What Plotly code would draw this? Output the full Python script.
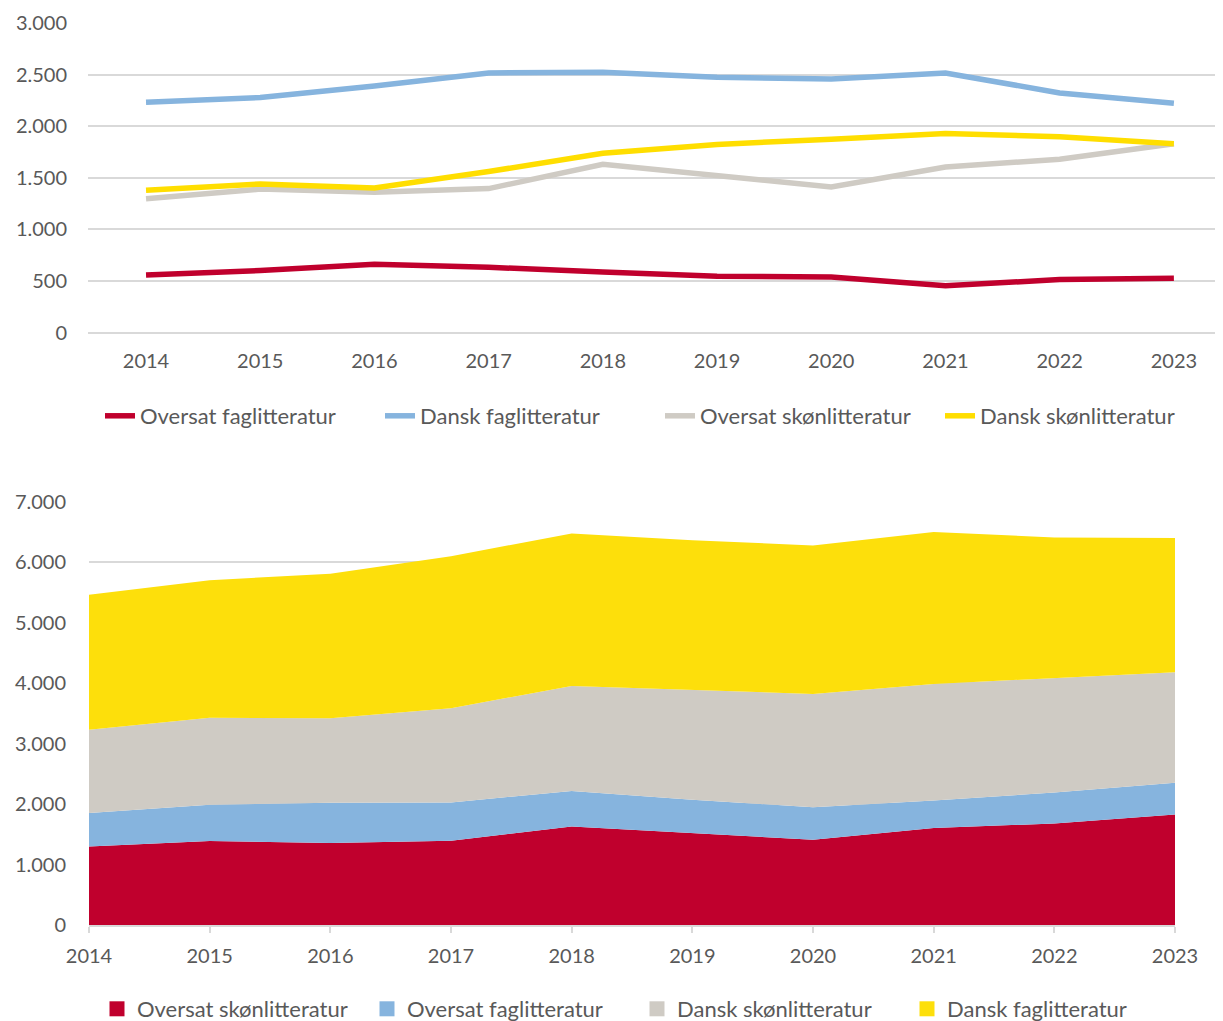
import plotly.graph_objects as go

years = [2014, 2015, 2016, 2017, 2018, 2019, 2020, 2021, 2022, 2023]
year_labels = [str(y) for y in years]

oversat_fag = [558, 600, 662, 632, 587, 545, 539, 454, 513, 525]
dansk_fag = [2231, 2277, 2390, 2516, 2523, 2474, 2458, 2516, 2322, 2222]
oversat_skon = [1297, 1390, 1359, 1395, 1631, 1527, 1411, 1605, 1680, 1829]
dansk_skon = [1378, 1440, 1401, 1560, 1738, 1823, 1874, 1930, 1897, 1829]

RED = "#C0002D"
BLUE = "#86B4DE"
GREY = "#CFCBC4"
YELLOW = "#FFDE00"
YELLOW_AREA = "#FDDF0B"
TEXT = "#595959"
GRID = "#D9D9D9"
FONT = "Lato"

# the page body has an 8px margin, so the figure is 8px smaller and
# page pixel positions are converted to figure fractions here
PAGE_W, PAGE_H = 1223, 1021
OFF = 8
W, H = PAGE_W - OFF, PAGE_H - OFF


def fx(px):
    return (px - OFF) / W


def fy(py):
    return (H - (py - OFF)) / H


fig = go.Figure()

# top chart: lines per category
top_series = [
    ("Oversat faglitteratur", oversat_fag, RED),
    ("Dansk faglitteratur", dansk_fag, BLUE),
    ("Oversat skønlitteratur", oversat_skon, GREY),
    ("Dansk skønlitteratur", dansk_skon, YELLOW),
]
for name, vals, col in top_series:
    fig.add_trace(
        go.Scatter(
            x=year_labels,
            y=vals,
            name=name,
            mode="lines",
            line=dict(color=col, width=5.5),
            xaxis="x",
            yaxis="y",
            legend="legend",
        )
    )

# bottom chart: stacked area
bottom_series = [
    ("Oversat skønlitteratur", oversat_skon, RED),
    ("Oversat faglitteratur", oversat_fag, BLUE),
    ("Dansk skønlitteratur", dansk_skon, GREY),
    ("Dansk faglitteratur", dansk_fag, YELLOW_AREA),
]
for name, vals, col in bottom_series:
    fig.add_trace(
        go.Scatter(
            x=years,
            y=vals,
            name=name,
            mode="lines",
            stackgroup="one",
            line=dict(color=col, width=0),
            fillcolor=col,
            xaxis="x2",
            yaxis="y2",
            showlegend=False,
        )
    )
    # square legend key, like the original
    fig.add_trace(
        go.Scatter(
            x=[None],
            y=[None],
            name=name,
            mode="markers",
            marker=dict(symbol="square", size=15, color=col),
            xaxis="x2",
            yaxis="y2",
            legend="legend2",
        )
    )

tickfont = dict(family=FONT, size=20, color=TEXT)

fig.update_layout(
    width=W,
    height=H,
    margin=dict(l=0, r=0, t=0, b=0, autoexpand=False),
    paper_bgcolor="white",
    plot_bgcolor="white",
    separators=",.",
    font=dict(family=FONT, size=20, color=TEXT),
    xaxis=dict(
        domain=[fx(88), 1.0],
        anchor="y",
        type="category",
        # the original plot area runs past the right edge of the image
        range=[-0.508, 9.43],
        showgrid=False,
        showline=False,
        ticks="",
        tickfont=tickfont,
        ticklabelstandoff=14,
        automargin=False,
    ),
    yaxis=dict(
        domain=[fy(332.5), fy(23)],
        anchor="x",
        range=[0, 3000],
        dtick=500,
        tickformat=",d",
        showgrid=True,
        gridcolor=GRID,
        gridwidth=1.5,
        zeroline=True,
        zerolinecolor=GRID,
        zerolinewidth=1.5,
        showline=False,
        ticks="",
        tickfont=tickfont,
        ticklabelstandoff=20,
        automargin=False,
    ),
    xaxis2=dict(
        domain=[fx(89), fx(1175)],
        anchor="y2",
        range=[2014, 2023],
        tickvals=years,
        showgrid=False,
        showline=True,
        linecolor=GRID,
        linewidth=1.5,
        ticks="outside",
        ticklen=6,
        tickcolor=GRID,
        tickwidth=1.5,
        tickfont=tickfont,
        ticklabelstandoff=6,
        automargin=False,
    ),
    yaxis2=dict(
        domain=[fy(925), fy(502)],
        anchor="x2",
        range=[0, 7000],
        dtick=1000,
        tickformat=",d",
        showgrid=True,
        gridcolor=GRID,
        gridwidth=1.5,
        zeroline=False,
        showline=False,
        ticks="",
        tickfont=tickfont,
        ticklabelstandoff=22,
        layer="below traces",
        automargin=False,
    ),
    legend=dict(
        orientation="h",
        traceorder="normal",
        entrywidth=235,
        x=fx(100),
        xanchor="left",
        y=fy(416),
        yanchor="middle",
        font=dict(family=FONT, size=22, color=TEXT),
        bgcolor="rgba(0,0,0,0)",
    ),
    legend2=dict(
        orientation="h",
        traceorder="normal",
        entrywidth=225,
        x=fx(97),
        xanchor="left",
        y=fy(1009),
        yanchor="middle",
        font=dict(family=FONT, size=22, color=TEXT),
        bgcolor="rgba(0,0,0,0)",
    ),
)

fig.write_html("out.html")
